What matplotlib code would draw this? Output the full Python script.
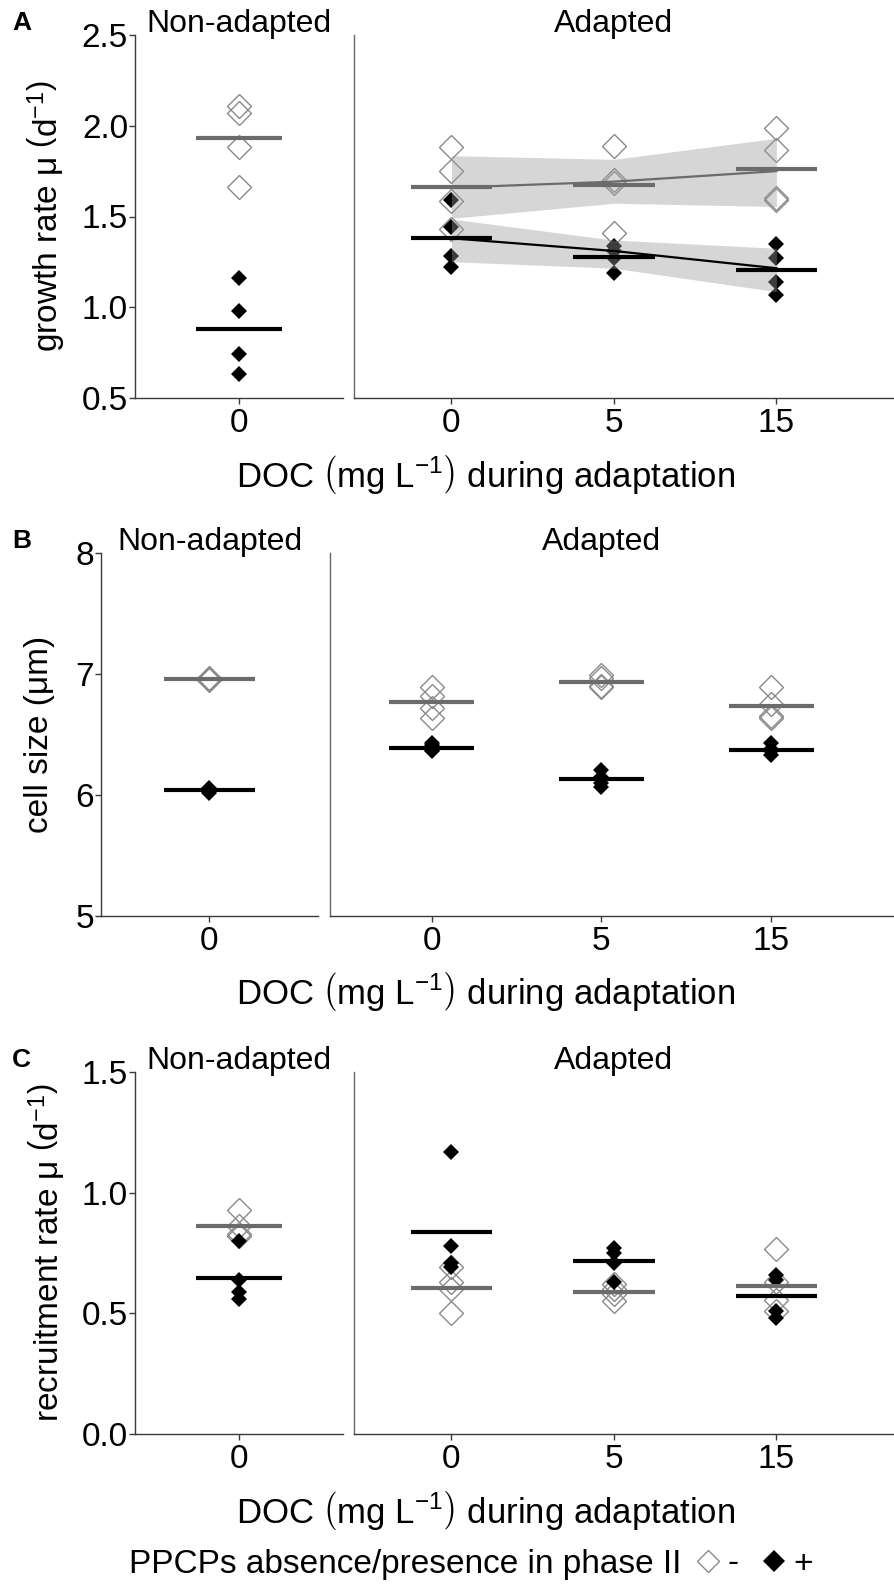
import numpy as np
import matplotlib
matplotlib.use("Agg")
import matplotlib.pyplot as plt
import matplotlib.transforms as mtransforms
from matplotlib.lines import Line2D

plt.rcParams["font.family"] = ["Liberation Sans", "DejaVu Sans"]
plt.rcParams["mathtext.fontset"] = "custom"
plt.rcParams["mathtext.rm"] = "Liberation Sans"
plt.rcParams["mathtext.it"] = "Liberation Sans:italic"

# categories
doc_levels = ["0", "5", "15"]

# panel A - growth rate (open = without PPCPs, filled = with PPCPs)
gr_non_open = [2.11, 2.07, 1.885, 1.66]
gr_non_fill = [1.16, 0.98, 0.74, 0.63]
gr_ad_open = [[1.885, 1.75, 1.585, 1.43], [1.89, 1.70, 1.685, 1.41], [1.985, 1.865, 1.60, 1.59]]
gr_ad_fill = [[1.59, 1.44, 1.28, 1.22], [1.34, 1.31, 1.27, 1.19], [1.35, 1.27, 1.14, 1.07]]
# regression lines and confidence bands
gr_reg_open = [1.659, 1.692, 1.750]
gr_band_open_lo = [1.49, 1.573, 1.555]
gr_band_open_hi = [1.835, 1.815, 1.931]
gr_reg_fill = [1.380, 1.31, 1.215]
gr_band_fill_lo = [1.251, 1.215, 1.086]
gr_band_fill_hi = [1.486, 1.37, 1.325]

# panel B - cell size
cs_non_open = [6.97, 6.96, 6.96, 6.95]
cs_non_fill = [6.06, 6.05, 6.03, 6.02]
cs_ad_open = [[6.89, 6.82, 6.72, 6.64], [6.99, 6.97, 6.90, 6.89], [6.89, 6.75, 6.65, 6.64]]
cs_ad_fill = [[6.43, 6.41, 6.37, 6.36], [6.21, 6.15, 6.10, 6.07], [6.43, 6.38, 6.36, 6.33]]

# panel C - recruitment rate
rr_non_open = [0.93, 0.86, 0.83, 0.82]
rr_non_fill = [0.80, 0.64, 0.59, 0.56]
rr_ad_open = [[0.69, 0.63, 0.60, 0.50], [0.62, 0.60, 0.58, 0.55], [0.765, 0.63, 0.555, 0.51]]
rr_ad_fill = [[1.17, 0.78, 0.71, 0.69], [0.77, 0.75, 0.71, 0.63], [0.66, 0.64, 0.51, 0.48]]

W, H = 895, 1593
fig = plt.figure(figsize=(W / 100, H / 100), dpi=100)

FS = 24
OPEN_EC = "#8a8a8a"
GREY_LINE = "#6b6b6b"
SPINE = "#3a3a3a"


def px_axes(x0, x1, y0, y1):
    return fig.add_axes([x0 / W, 1 - y1 / H, (x1 - x0) / W, (y1 - y0) / H])


def style(ax, show_y):
    for s in ["top", "right"]:
        ax.spines[s].set_visible(False)
    for s in ["left", "bottom"]:
        ax.spines[s].set_color(SPINE)
        ax.spines[s].set_linewidth(1.0)
    ax.tick_params(axis="x", length=4, width=1, color=SPINE, labelsize=FS, pad=3)
    if show_y:
        ax.tick_params(axis="y", length=4, width=1, color=SPINE, labelsize=FS, pad=1)
    else:
        ax.spines["left"].set_color("#666666")
        ax.tick_params(axis="y", left=False, labelleft=False)


def points(ax, x, vals_open, vals_fill):
    ax.plot([x] * len(vals_open), vals_open, ls="none", marker="D", ms=12.5,
            mfc="none", mec=OPEN_EC, mew=1.0, zorder=3)
    ax.plot([x] * len(vals_fill), vals_fill, ls="none", marker="D", ms=8.2,
            mfc="black", mec="black", mew=0, zorder=3)


def means(ax, x, vals_open, vals_fill):
    ax.plot([x - 0.25, x + 0.25], [np.mean(vals_open)] * 2, color=GREY_LINE,
            lw=3.0, solid_capstyle="butt", zorder=5)
    ax.plot([x - 0.25, x + 0.25], [np.mean(vals_fill)] * 2, color="black",
            lw=3.0, solid_capstyle="butt", zorder=5)


def panel(top, bot, lx0, lx1, rx0, non_open, non_fill, ad_open, ad_fill,
          ylim, yticks, yfmt, ylabel, letter, ylab_x):
    axl = px_axes(lx0, lx1, top, bot)
    axr = px_axes(rx0, W, top, bot)
    style(axl, True)
    style(axr, False)

    points(axl, 1, non_open, non_fill)
    means(axl, 1, non_open, non_fill)
    axl.set_xlim(0.4, 1.6)
    axl.set_xticks([1])
    axl.set_xticklabels(["0"])

    pos = np.arange(1, len(doc_levels) + 1)
    for p, o, f in zip(pos, ad_open, ad_fill):
        points(axr, p, o, f)
        means(axr, p, o, f)
    axr.set_xlim(0.4, 3.73)
    axr.set_xticks(pos)
    axr.set_xticklabels(doc_levels)

    for a in (axl, axr):
        a.set_ylim(*ylim)
    axl.set_yticks(yticks)
    axl.set_yticklabels([yfmt.format(t) for t in yticks])
    axr.set_yticks(yticks)

    # facet strip labels, baseline just above the panel top
    up = mtransforms.ScaledTranslation(0, 3 / 100, fig.dpi_scale_trans)
    axl.text(1, 1.0, "Non-adapted", transform=axl.get_xaxis_transform() + up,
             ha="center", va="baseline", fontsize=FS - 1)
    axr.text(2, 1.0, "Adapted", transform=axr.get_xaxis_transform() + up,
             ha="center", va="baseline", fontsize=FS - 1)

    fig.text(ylab_x / W, 1 - (top + bot) / 2 / H, ylabel, rotation=90,
             ha="center", va="center", fontsize=FS)
    fig.text(12 / W, 1 - (top - 12) / H, letter, fontsize=19, fontweight="bold",
             ha="left", va="center")
    fig.text(486 / W, 1 - (bot + 76) / H,
             r"DOC $\left(\mathrm{mg\ L}^{-1}\right)$ during adaptation",
             ha="center", va="center", fontsize=FS + 1)
    return axl, axr


# panel A
axl, axr = panel(35, 398, 135, 343, 354, gr_non_open, gr_non_fill, gr_ad_open, gr_ad_fill,
                 (0.5, 2.5), [0.5, 1.0, 1.5, 2.0, 2.5], "{:.1f}",
                 r"growth rate μ $\left(\mathrm{d}^{-1}\right)$", "A", 46)
pos = np.arange(1, len(doc_levels) + 1)
axr.fill_between(pos, gr_band_open_lo, gr_band_open_hi, color="#999999", alpha=0.4, lw=0, zorder=4)
axr.fill_between(pos, gr_band_fill_lo, gr_band_fill_hi, color="#999999", alpha=0.4, lw=0, zorder=4)
axr.plot(pos, gr_reg_open, color=GREY_LINE, lw=1.6, zorder=6)
axr.plot(pos, gr_reg_fill, color="black", lw=1.6, zorder=6)

# panel B
panel(553, 916, 101, 318, 330, cs_non_open, cs_non_fill, cs_ad_open, cs_ad_fill,
      (5, 8), [5, 6, 7, 8], "{:d}", "cell size (μm)", "B", 40)

# panel C
panel(1072, 1434, 135, 343, 354, rr_non_open, rr_non_fill, rr_ad_open, rr_ad_fill,
      (0, 1.5), [0.0, 0.5, 1.0, 1.5], "{:.1f}",
      r"recruitment rate μ $\left(\mathrm{d}^{-1}\right)$", "C", 46)

# legend
fig.text(129 / W, 1 - 1564 / H, "PPCPs absence/presence in phase II",
         ha="left", va="center", fontsize=FS)
handles = [Line2D([], [], ls="none", marker="D", ms=11, mfc="none", mec=OPEN_EC, mew=1.0),
           Line2D([], [], ls="none", marker="D", ms=11, mfc="black", mec="black", mew=0)]
fig.legend(handles, ["-", "+"], ncol=2, frameon=False, fontsize=FS,
           loc="center left", bbox_to_anchor=(696 / W, 1 - 1564 / H),
           handlelength=0.7, handletextpad=0.25, columnspacing=0.7, borderpad=0, borderaxespad=0)

fig.savefig("out.png", dpi=100)
